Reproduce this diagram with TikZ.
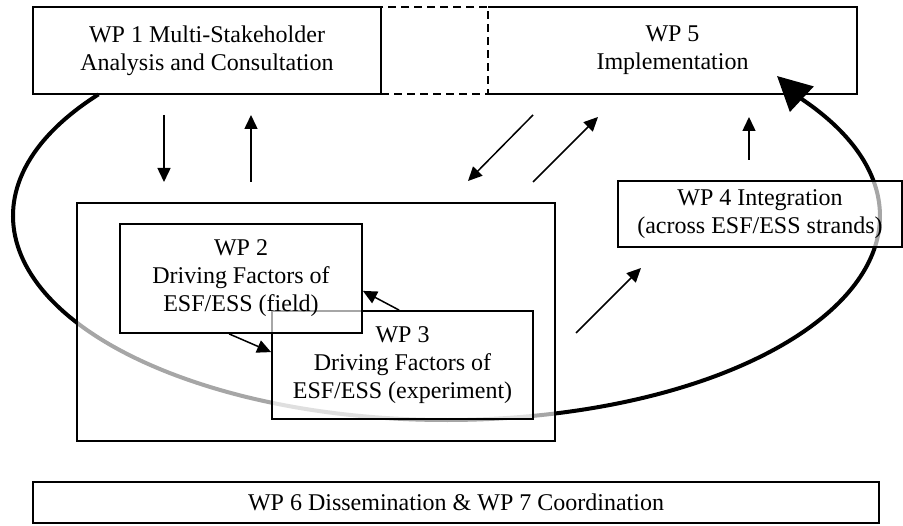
\documentclass[tikz,border=0pt]{standalone}
\usepackage{fontspec}
\setmainfont{Liberation Serif}
\usetikzlibrary{arrows.meta,calc}
\begin{document}
\begin{tikzpicture}[x=1pt,y=-1pt,
  txt/.style={align=center, inner sep=0pt, anchor=center, font=\fontsize{24}{28}\selectfont},
  solidbox/.style={txt, draw, line width=1.8pt},
  glassbox/.style={txt, draw, line width=1.8pt, fill=white, fill opacity=0.65, text opacity=1, draw opacity=1},
  dashbox/.style={draw, line width=1.8pt, dash pattern=on 8pt off 5pt, inner sep=0pt},
  arr/.style={line width=1.5pt, -{Triangle[length=14pt,width=13pt]}},
  loopline/.style={line width=4pt, -{Triangle[length=34pt,width=34pt]}}]
\useasboundingbox (0,0) rectangle (903,526);

% top row and bottom box
\node[solidbox, minimum width=348pt, minimum height=87pt] (wp1) at (207,50.5) {WP 1 Multi-Stakeholder\\Analysis and Consultation};
\node[dashbox, minimum width=107pt, minimum height=87pt] (gap) at (434.5,50.5) {};
\node[txt, minimum width=369pt, minimum height=87pt] (wp5) at (672.5,50.5) {WP 5\\Implementation};
\draw[line width=1.8pt] (wp5.south west) -- (wp5.south east) -- (wp5.north east) -- (wp5.north west);
\node[solidbox, minimum width=846pt, minimum height=41pt] (wp6) at (456,502.5) {WP 6 Dissemination \& WP 7 Coordination};

% big loop
\coordinate (lc) at (446.5,216);
\coordinate (looptip) at (777,76);
\draw[loopline] (lc) ++(143.4:433.5pt and 204pt)
  arc[start angle=143.4, end angle=395, x radius=433.5pt, y radius=204pt] -- (looptip);

% boxes above the loop
\node[glassbox, minimum width=478pt, minimum height=238pt] (big) at (316,322) {};
\node[glassbox, minimum width=261pt, minimum height=108pt] (wp3) at (402.5,365) {WP 3\\Driving Factors of\\ESF/ESS (experiment)};
\node[glassbox, minimum width=242pt, minimum height=109pt] (wp2) at (241,278.5) {WP 2\\Driving Factors of\\ESF/ESS (field)};
\node[glassbox, minimum width=284pt, minimum height=66pt] (wp4) at (760,214) {WP 4 Integration\\(across ESF/ESS strands)};

% floating arrows
\coordinate (a1s) at (164,115); \coordinate (a1e) at (164,182);
\coordinate (a2s) at (251,182); \coordinate (a2e) at (251,115);
\coordinate (a3s) at (533,115); \coordinate (a3e) at (468,181);
\coordinate (a4s) at (533,182); \coordinate (a4e) at (598,117);
\coordinate (a5s) at (749,160); \coordinate (a5e) at (749,117);
\coordinate (a6s) at (576,333); \coordinate (a6e) at (641,268);
\draw[arr] (a1s) -- (a1e);
\draw[arr] (a2s) -- (a2e);
\draw[arr] (a3s) -- (a3e);
\draw[arr] (a4s) -- (a4e);
\draw[arr] (a5s) -- (a5e);
\draw[arr] (a6s) -- (a6e);

% WP2 <-> WP3
\draw[arr] ($(wp3.north west)+(128,0)$) -- ($(wp2.south east)+(0,-43)$);
\draw[arr] ($(wp2.south west)+(110,0)$) -- ($(wp3.north west)+(0,42)$);
\end{tikzpicture}
\end{document}
